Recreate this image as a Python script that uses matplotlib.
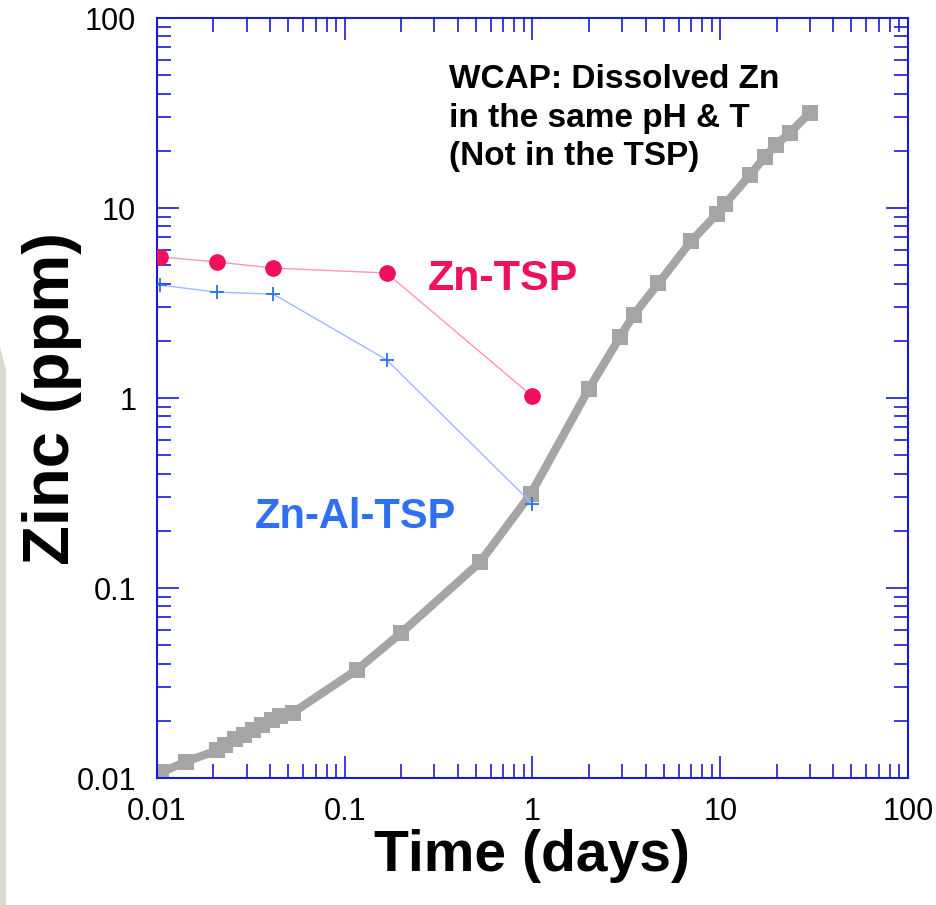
import matplotlib
matplotlib.use("Agg")
import matplotlib.pyplot as plt
from matplotlib.patches import Polygon
from matplotlib.ticker import LogLocator, FixedLocator, FixedFormatter, NullFormatter

plt.rcParams['font.family'] = ['Liberation Sans', 'DejaVu Sans']

# Données
# WCAP : zinc dissous (même pH et T)
t_wcap = [0.0105, 0.0143, 0.0209, 0.023, 0.026, 0.029, 0.0325, 0.0362, 0.041, 0.045, 0.053,
          0.116, 0.20, 0.525, 0.98, 2.0, 2.92, 3.47, 4.68, 6.98, 9.6, 10.6, 14.4, 17.3, 19.8, 23.5, 30.0]
zn_wcap = [0.0107, 0.0122, 0.0140, 0.0150, 0.0161, 0.0169, 0.0180, 0.0191, 0.0203, 0.0213, 0.0221,
           0.0371, 0.0581, 0.1365, 0.313, 1.12, 2.09, 2.75, 4.01, 6.67, 9.3, 10.5, 14.9, 18.6, 21.5, 24.9, 31.7]

# Zn-TSP
t_tsp = [0.0104, 0.0208, 0.0417, 0.167, 1.0]
zn_tsp = [5.53, 5.2, 4.83, 4.55, 1.02]

# Zn-Al-TSP
t_altsp = [0.0104, 0.0208, 0.0417, 0.167, 1.0]
zn_altsp = [3.93, 3.61, 3.52, 1.59, 0.277]

tick_vals = [0.01, 0.1, 1, 10, 100]
tick_labels = ['0.01', '0.1', '1', '10', '100']

axis_blue = '#1a1ad8'

fig = plt.figure(figsize=(9.36, 9.05), dpi=100)

# bande beige à gauche (fond de la diapo)
fig.patches.append(Polygon([[0, 0], [0.0065, 0], [0.0065, 0.591], [0, 0.617]],
                           closed=True, transform=fig.transFigure,
                           facecolor='#dcdacd', edgecolor='none'))

ax = fig.add_axes([0.1677, 0.1403, 0.8024, 0.8398])

# Tracé des courbes
ax.plot(t_wcap, zn_wcap, color='#a6a4a7', linewidth=6, marker='s', markersize=12,
        markeredgewidth=0, solid_capstyle='butt', zorder=2)
ax.plot(t_altsp, zn_altsp, color='#9fb9ff', linewidth=1.0, marker='+', markersize=10,
        markeredgecolor='#2a6ff0', markeredgewidth=1.3, zorder=3)
ax.plot(t_tsp, zn_tsp, color='#ff98ad', linewidth=1.0, marker='o', markersize=11,
        markerfacecolor='#f0105c', markeredgecolor='#f0105c', zorder=3)

ax.set_xscale('log')
ax.set_yscale('log')
ax.set_xlim(0.01, 100)
ax.set_ylim(0.01, 100)

# Configuration des axes
for axis in (ax.xaxis, ax.yaxis):
    axis.set_major_locator(FixedLocator(tick_vals))
    axis.set_major_formatter(FixedFormatter(tick_labels))
    axis.set_minor_locator(LogLocator(base=10, subs=range(2, 10)))
    axis.set_minor_formatter(NullFormatter())

ax.tick_params(which='both', direction='in', top=True, right=True, color=axis_blue, width=1.2)
ax.tick_params(which='major', length=16)
ax.tick_params(which='minor', length=10)
ax.tick_params(axis='x', labelsize=22, pad=14)
ax.tick_params(axis='y', labelsize=22, pad=15)
for s in ax.spines.values():
    s.set_color(axis_blue)
    s.set_linewidth(1.5)

ax.set_xlabel('Time (days)', fontsize=41, fontweight='bold', labelpad=1)
ax.set_ylabel('Zinc (ppm)', fontsize=47, fontweight='bold', labelpad=-4)

# Annotations
ax.text(0.389, 0.939, 'WCAP: Dissolved Zn\nin the same pH & T\n(Not in the TSP)',
        transform=ax.transAxes, fontsize=24, fontweight='bold', ha='left', va='top',
        linespacing=1.3, color='black')
ax.text(0.4607, 0.6566, 'Zn-TSP', transform=ax.transAxes, fontsize=31, fontweight='bold',
        color='#f0105c', ha='center', va='center')
ax.text(0.2636, 0.3434, 'Zn-Al-TSP', transform=ax.transAxes, fontsize=30, fontweight='bold',
        color='#2f70f2', ha='center', va='center')

fig.savefig('out.png', dpi=100)
